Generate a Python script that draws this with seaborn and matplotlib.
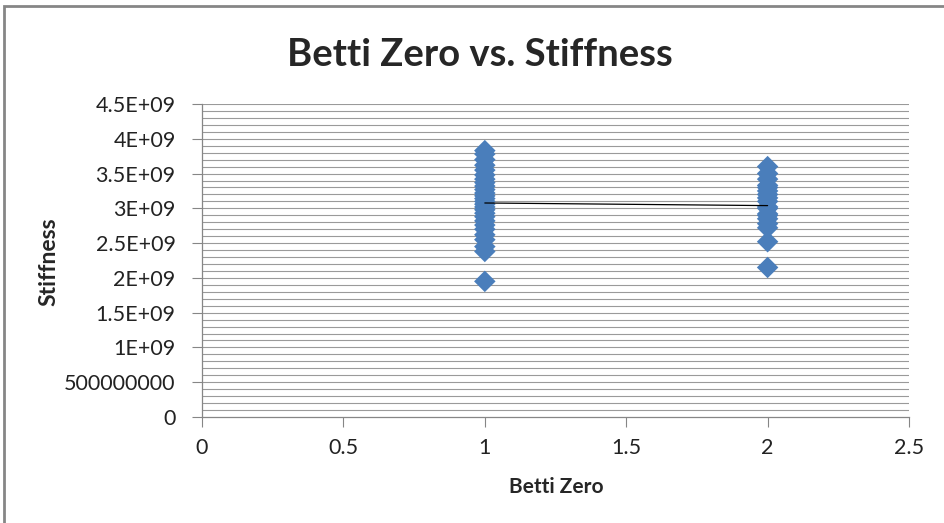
import numpy as np
import pandas as pd
import matplotlib
matplotlib.use("Agg")
import matplotlib.pyplot as plt
import seaborn as sns
from matplotlib.patches import Rectangle

# stiffness values (in 1E9), grouped by Betti zero
betti_one = [1.95, 2.38, 2.45, 2.55, 2.62, 2.70, 2.76, 2.82, 2.88, 2.93, 2.98, 3.02, 3.06, 3.10,
             3.14, 3.18, 3.22, 3.27, 3.32, 3.37, 3.42, 3.48, 3.55, 3.62, 3.70, 3.78, 3.83]
betti_two = [2.15, 2.52, 2.72, 2.78, 2.85, 2.90, 2.92, 3.00, 3.02, 3.10, 3.15, 3.20, 3.25, 3.30,
             3.33, 3.42, 3.50, 3.60]

y_ticks = [0, 0.5e9, 1e9, 1.5e9, 2e9, 2.5e9, 3e9, 3.5e9, 4e9, 4.5e9]
y_tick_labels = ["0", "500000000", "1E+09", "1.5E+09", "2E+09", "2.5E+09",
                 "3E+09", "3.5E+09", "4E+09", "4.5E+09"]
x_ticks = [0, 0.5, 1, 1.5, 2, 2.5]
x_tick_labels = ["0", "0.5", "1", "1.5", "2", "2.5"]

df = pd.DataFrame({
    "betti": [1] * len(betti_one) + [2] * len(betti_two),
    "stiffness": [v * 1e9 for v in betti_one + betti_two],
})

sns.set_style("white")
plt.rcParams["font.family"] = ["Lato", "DejaVu Sans"]

fig = plt.figure(figsize=(9.45, 5.23), dpi=100)
ax = fig.add_axes([0.2138, 0.2027, 0.7481, 0.5984])

grid_c = "#9a9a9a"
for g in np.arange(1e8, 4.5e9 + 1, 1e8):
    ax.axhline(g, color=grid_c, lw=0.8, zorder=0)

sns.regplot(data=df, x="betti", y="stiffness", ax=ax, ci=None,
            marker="D", scatter_kws={"s": 120, "color": "#4a7ebb", "edgecolor": "none", "alpha": 1, "zorder": 3},
            line_kws={"color": "black", "lw": 0.9, "zorder": 4})

ax.set_xlim(0, 2.5)
ax.set_ylim(0, 4.5e9)
ax.set_xticks(x_ticks)
ax.set_xticklabels(x_tick_labels)
ax.set_yticks(y_ticks)
ax.set_yticklabels(y_tick_labels)
ax.tick_params(axis="both", labelsize=15.5, colors="#222222", length=7, width=0.8, direction="out",
               left=True, bottom=True)
ax.tick_params(axis="x", pad=8, color="#868686")
ax.tick_params(axis="y", pad=12, color="#868686")
for s in ["top", "right"]:
    ax.spines[s].set_visible(False)
for s in ["left", "bottom"]:
    ax.spines[s].set_color("#868686")
    ax.spines[s].set_linewidth(0.9)

ax.set_xlabel("")
ax.set_ylabel("")
fig.text(556 / 945, 1 - 487 / 523, "Betti Zero", ha="center", va="center", fontsize=15, fontweight="bold")
fig.text(49 / 945, 1 - 262 / 523, "Stiffness", ha="center", va="center", rotation=90, fontsize=16.5,
         fontweight="bold")
fig.text(480 / 945, 1 - 55 / 523, "Betti Zero vs. Stiffness", ha="center", va="center", fontsize=27.5,
         fontweight="bold")

fig.patches.append(Rectangle((4 / 945, -0.05), 1.1, 1 - 6 / 523 + 0.05, transform=fig.transFigure,
                             fill=False, edgecolor="#868686", lw=2))

fig.savefig("out.png", dpi=100)
